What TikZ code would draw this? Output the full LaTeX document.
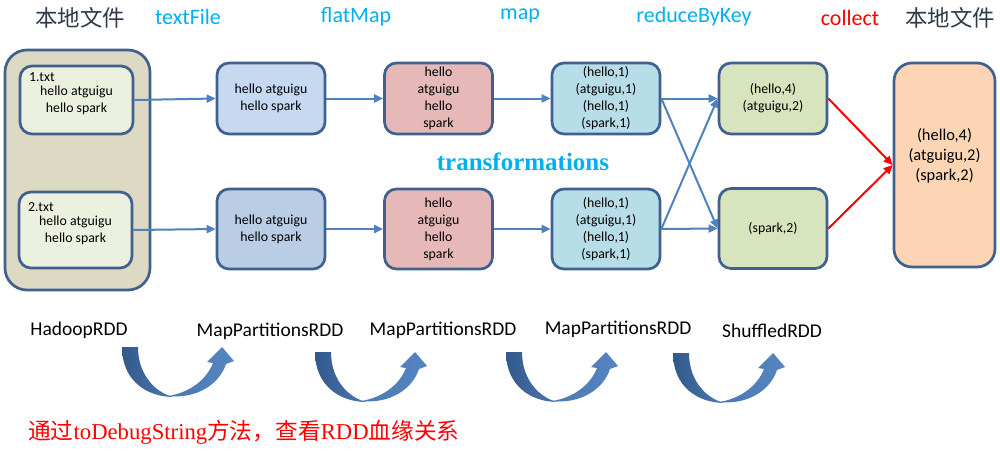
\documentclass[tikz,border=0pt]{standalone}
\usepackage{fontspec}
\setmainfont{Carlito}
\newfontfamily\cjk{Noto Sans CJK SC}
\newfontfamily\tnr{Liberation Serif}
\usetikzlibrary{arrows.meta}
\definecolor{bord}{HTML}{3F6190}
\definecolor{tan}{HTML}{DDD9C3}
\definecolor{filegreen}{HTML}{EBF1DE}
\definecolor{tfA}{HTML}{C6D9F1}
\definecolor{tfB}{HTML}{B9CDE5}
\definecolor{fmpink}{HTML}{E6B9B8}
\definecolor{mpblue}{HTML}{B7DDE8}
\definecolor{rdgreen}{HTML}{D7E4BD}
\definecolor{fnorange}{HTML}{FCD5B5}
\definecolor{arrblue}{HTML}{4F81BD}
\definecolor{cyanT}{HTML}{00B0F0}
\definecolor{titlegray}{HTML}{2E3A4A}
\definecolor{crvdark}{HTML}{33598C}
\definecolor{crvmid}{HTML}{4B78B0}
\definecolor{crvlight}{HTML}{5585C2}
\tikzset{
  rbox/.style={draw=bord, line width=2.7pt, rounded corners=12pt, align=center, inner sep=0pt,
    font=\fontsize{13.8}{17}\selectfont},
  ttl/.style={font=\fontsize{22}{24}\selectfont, text=cyanT, inner sep=0pt},
  cnttl/.style={font=\cjk\fontsize{22.5}{24}\selectfont, text=titlegray, inner sep=0pt},
  rddlbl/.style={font=\fontsize{19.5}{22}\selectfont, inner sep=0pt},
  flow/.style={draw=arrblue, line width=2pt, -{Triangle[length=9pt,width=8pt]}},
  redflow/.style={draw=red, line width=2pt, -{Triangle[length=9pt,width=8pt]}},
}
\begin{document}
\begin{tikzpicture}[x=1pt,y=-1pt]
\useasboundingbox (0,0) rectangle (1000,450);
\fill[white] (0,0) rectangle (1000,450);

% titles
\node[cnttl] (tl1) at (80,18) {本地文件};
\node[ttl] (tl2) at (188,17) {textFile};
\node[ttl] (tl3) at (356,17) {flatMap};
\node[ttl] (tl4) at (520,16) {map};
\node[ttl] (tl5) at (694,17) {reduceByKey};
\node[ttl, text=red] (tl6) at (850,18) {collect};
\node[cnttl] (tl7) at (950,18) {本地文件};

% container with files
\node[rbox, fill=tan, rounded corners=22pt, minimum width=145pt, minimum height=240pt] (cont) at (77.5,170) {};
\node[rbox, fill=filegreen, minimum width=113pt, minimum height=68pt] (in1) at (76.5,100) {hello atguigu\\hello spark};
\node[rbox, fill=filegreen, minimum width=113pt, minimum height=76pt] (in2) at (75.5,230) {hello atguigu\\hello spark};
\node[font=\fontsize{13.8}{17}\selectfont, anchor=west, inner sep=0pt] (lb1) at (29,77) {1.txt};
\node[font=\fontsize{13.8}{17}\selectfont, anchor=west, inner sep=0pt] (lb2) at (28,207) {2.txt};

% textFile
\node[rbox, fill=tfA, minimum width=108pt, minimum height=71pt] (t1) at (271,98.5) {hello atguigu\\hello spark};
\node[rbox, fill=tfB, minimum width=108pt, minimum height=80pt] (t2) at (271,229) {hello atguigu\\hello spark};
% flatMap
\node[rbox, fill=fmpink, minimum width=108pt, minimum height=71pt] (f1) at (438.5,98.5) {hello\\atguigu\\hello\\spark};
\node[rbox, fill=fmpink, minimum width=108pt, minimum height=80pt] (f2) at (438.5,229) {hello\\atguigu\\hello\\spark};
% map
\node[rbox, fill=mpblue, minimum width=108pt, minimum height=71pt] (m1) at (606,98.5) {(hello,1)\\(atguigu,1)\\(hello,1)\\(spark,1)};
\node[rbox, fill=mpblue, minimum width=108pt, minimum height=80pt] (m2) at (606,229) {(hello,1)\\(atguigu,1)\\(hello,1)\\(spark,1)};
% reduceByKey
\node[rbox, fill=rdgreen, minimum width=108pt, minimum height=71pt] (r1) at (773,98.5) {(hello,4)\\(atguigu,2)};
\node[rbox, fill=rdgreen, minimum width=108pt, minimum height=80pt] (r2) at (773,228.5) {(spark,2)};
% final
\node[rbox, fill=fnorange, rounded corners=18pt, minimum width=101pt, minimum height=204pt] (fin) at (944.5,165) {};
\node[align=center, inner sep=0pt, font=\fontsize{16.4}{20}\selectfont] (fintxt) at (944.5,156) {(hello,4)\\(atguigu,2)\\(spark,2)};

\node[font=\tnr\bfseries\fontsize{25}{28}\selectfont, text=cyanT, inner sep=0pt] (trans) at (523,162) {transformations};

% connectors
\draw[flow] (in1.east) -- (t1.west);
\draw[flow] (in2.east) -- (t2.west);
\draw[flow] (t1.east) -- (f1.west);
\draw[flow] (t2.east) -- (f2.west);
\draw[flow] (f1.east) -- (m1.west);
\draw[flow] (f2.east) -- (m2.west);
\draw[flow] (m1.east) -- (r1.west);
\draw[flow] (m1.east) -- (r2.west);
\draw[flow] (m2.east) -- (r1.west);
\draw[flow] (m2.east) -- (r2.west);
\draw[redflow] (r1.east) -- (fin.west);
\draw[redflow] (r2.east) -- (fin.west);

% RDD labels
\node[rddlbl] (rd1) at (79,330) {HadoopRDD};
\node[rddlbl] (rd2) at (270,331) {MapPartitionsRDD};
\node[rddlbl] (rd3) at (443,330) {MapPartitionsRDD};
\node[rddlbl] (rd4) at (618,329) {MapPartitionsRDD};
\node[rddlbl] (rd5) at (772,331) {ShuffledRDD};

% curved arrows
\foreach \cx/\cy in {122/347, 315/352, 506/352, 673/353}{
  \begin{scope}[shift={(\cx,\cy)}]
    \shade[left color=crvdark, right color=crvmid]
      (0,0) .. controls (0,33) and (24,50) .. (52,50)
      .. controls (36,47) and (16,30) .. (16,0) -- cycle;
    \shade[left color=crvmid, right color=crvlight]
      (46,49) .. controls (74,52) and (97,38) .. (104,17)
      -- (112,14) -- (100,0) -- (85,15) -- (91,16)
      .. controls (84,34) and (66,46) .. (46,49) -- cycle;
  \end{scope}
}

% bottom note
\node[anchor=west, inner sep=0pt, text=red, font=\fontsize{22.7}{24}\selectfont] (note) at (28,432)
  {{\cjk 通过}{\tnr toDebugString}{\cjk 方法，查看}{\tnr RDD}{\cjk 血缘关系}};
\end{tikzpicture}
\end{document}
